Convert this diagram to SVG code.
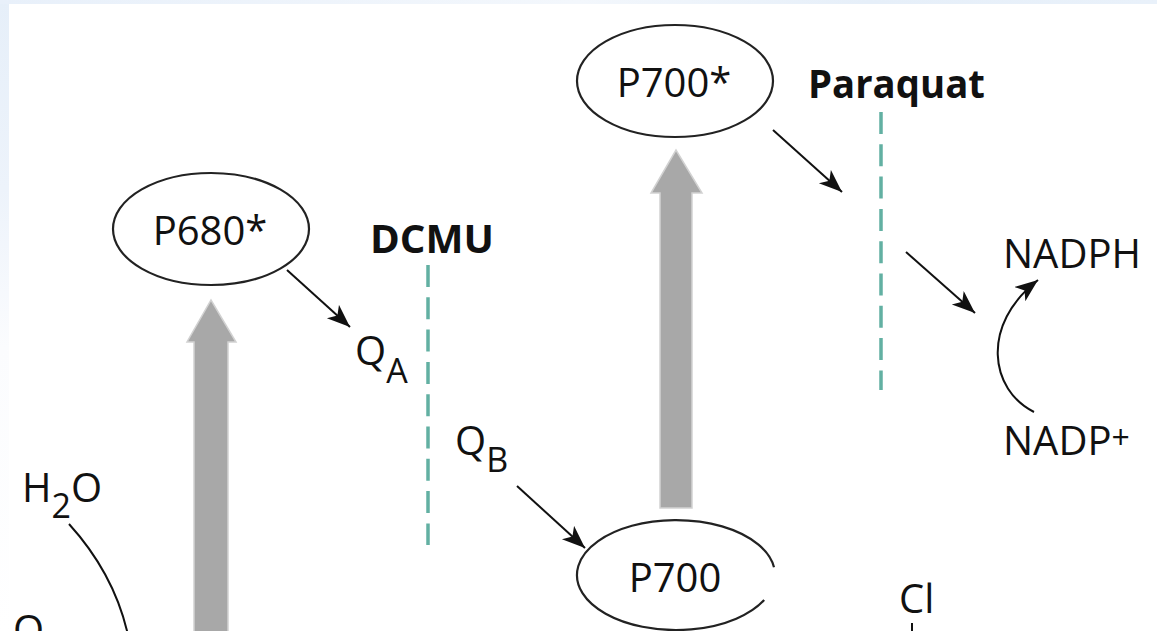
<svg xmlns="http://www.w3.org/2000/svg" width="1157" height="631" viewBox="0 0 1157 631">
<defs>
<linearGradient id="leftStrip" x1="0" y1="0" x2="0" y2="1">
<stop offset="0" stop-color="#e6eff9"/>
<stop offset="0.3" stop-color="#edf3fb"/>
<stop offset="0.55" stop-color="#fbfcfe"/>
<stop offset="1" stop-color="#ffffff"/>
</linearGradient>
<linearGradient id="topStrip" x1="0" y1="0" x2="1" y2="0">
<stop offset="0" stop-color="#e8f0fa"/>
<stop offset="0.5" stop-color="#f3f7fc"/>
<stop offset="0.75" stop-color="#e6eff9"/>
<stop offset="1" stop-color="#e9f1fa"/>
</linearGradient>
<marker id="ah" markerUnits="userSpaceOnUse" markerWidth="26" markerHeight="20" refX="23" refY="9" orient="auto" viewBox="0 0 26 20">
<path d="M0,0 L23,9 L0,18 L6,9 Z" fill="#111"/>
</marker>
<style>
.lbl{font-family:"Open Sans","Noto Sans","Liberation Sans",sans-serif;font-size:40px;fill:#111}
.bold{font-weight:bold;font-size:39px}
.node{fill:#fff;stroke:#222;stroke-width:2.2}
.conn{fill:none;stroke:#111;stroke-width:2}
.block{fill:none;stroke:#62b0a2;stroke-width:3.5;stroke-dasharray:22 10.3}
.big{fill:#a8a8a8;stroke:#d2d2d2;stroke-width:1.5}
</style>
</defs>
<rect x="0" y="0" width="1157" height="631" fill="#ffffff"/>
<rect x="0" y="0" width="9" height="631" fill="url(#leftStrip)"/>
<rect x="0" y="0" width="1157" height="4" fill="url(#topStrip)"/>

<g id="energy-arrows">
<path class="big" d="M194,640 L194,342 L187,342 L211,300 L236,342 L228,342 L228,640 Z"/>
<path class="big" d="M660,508 L660,193 L651,193 L676,150 L702,193 L692,193 L692,508 Z"/>
</g>

<g id="connectors">
<line class="conn" x1="287" y1="270" x2="350" y2="327" marker-end="url(#ah)"/>
<line class="conn" x1="773" y1="130" x2="842" y2="192" marker-end="url(#ah)"/>
<line class="conn" x1="906" y1="252" x2="975" y2="313" marker-end="url(#ah)"/>
<line class="conn" x1="517" y1="486" x2="585" y2="548" marker-end="url(#ah)"/>
<path class="conn" d="M1034,412 C990,390 980,325 1038,280" marker-end="url(#ah)"/>
<path class="conn" d="M69,524 Q118,578 130,645"/>
<line class="conn" x1="912" y1="623" x2="912" y2="640"/>
</g>

<g id="DCMU">
<line class="block" x1="428" y1="265" x2="428" y2="545"/>
<text class="lbl bold" x="370" y="253" textLength="124" lengthAdjust="spacingAndGlyphs">DCMU</text>
</g>

<g id="Paraquat">
<line class="block" x1="881" y1="112" x2="881" y2="390"/>
<text class="lbl bold" x="808" y="98" textLength="177" lengthAdjust="spacingAndGlyphs">Paraquat</text>
</g>

<g id="P680star">
<ellipse class="node" cx="211" cy="229" rx="98" ry="56"/>
<text class="lbl" x="210" y="245" text-anchor="middle">P680*</text>
</g>

<g id="P700star">
<ellipse class="node" cx="675" cy="81" rx="98" ry="56"/>
<text class="lbl" x="674" y="97" text-anchor="middle">P700*</text>
</g>

<g id="P700">
<path class="node" d="M764.2,600 A99,55 0 1 1 774,567.3"/>
<text class="lbl" x="675" y="592" text-anchor="middle">P700</text>
</g>

<g id="QA">
<text class="lbl" x="355" y="365">Q<tspan font-size="34" dy="18">A</tspan></text>
</g>

<g id="QB">
<text class="lbl" x="455" y="455">Q<tspan font-size="34" dy="17">B</tspan></text>
</g>

<g id="H2O">
<text class="lbl" x="22" y="502">H<tspan font-size="34" dy="16">2</tspan><tspan dy="-16">O</tspan></text>
</g>

<g id="O2">
<text class="lbl" x="13" y="644">O</text>
</g>

<g id="NADPH">
<text class="lbl" x="1003" y="268">NADPH</text>
</g>

<g id="NADPplus">
<text class="lbl" x="1003" y="455">NADP<tspan font-size="32" dy="-6">+</tspan></text>
</g>

<g id="Cl">
<text class="lbl" x="899" y="613">Cl</text>
</g>
</svg>
